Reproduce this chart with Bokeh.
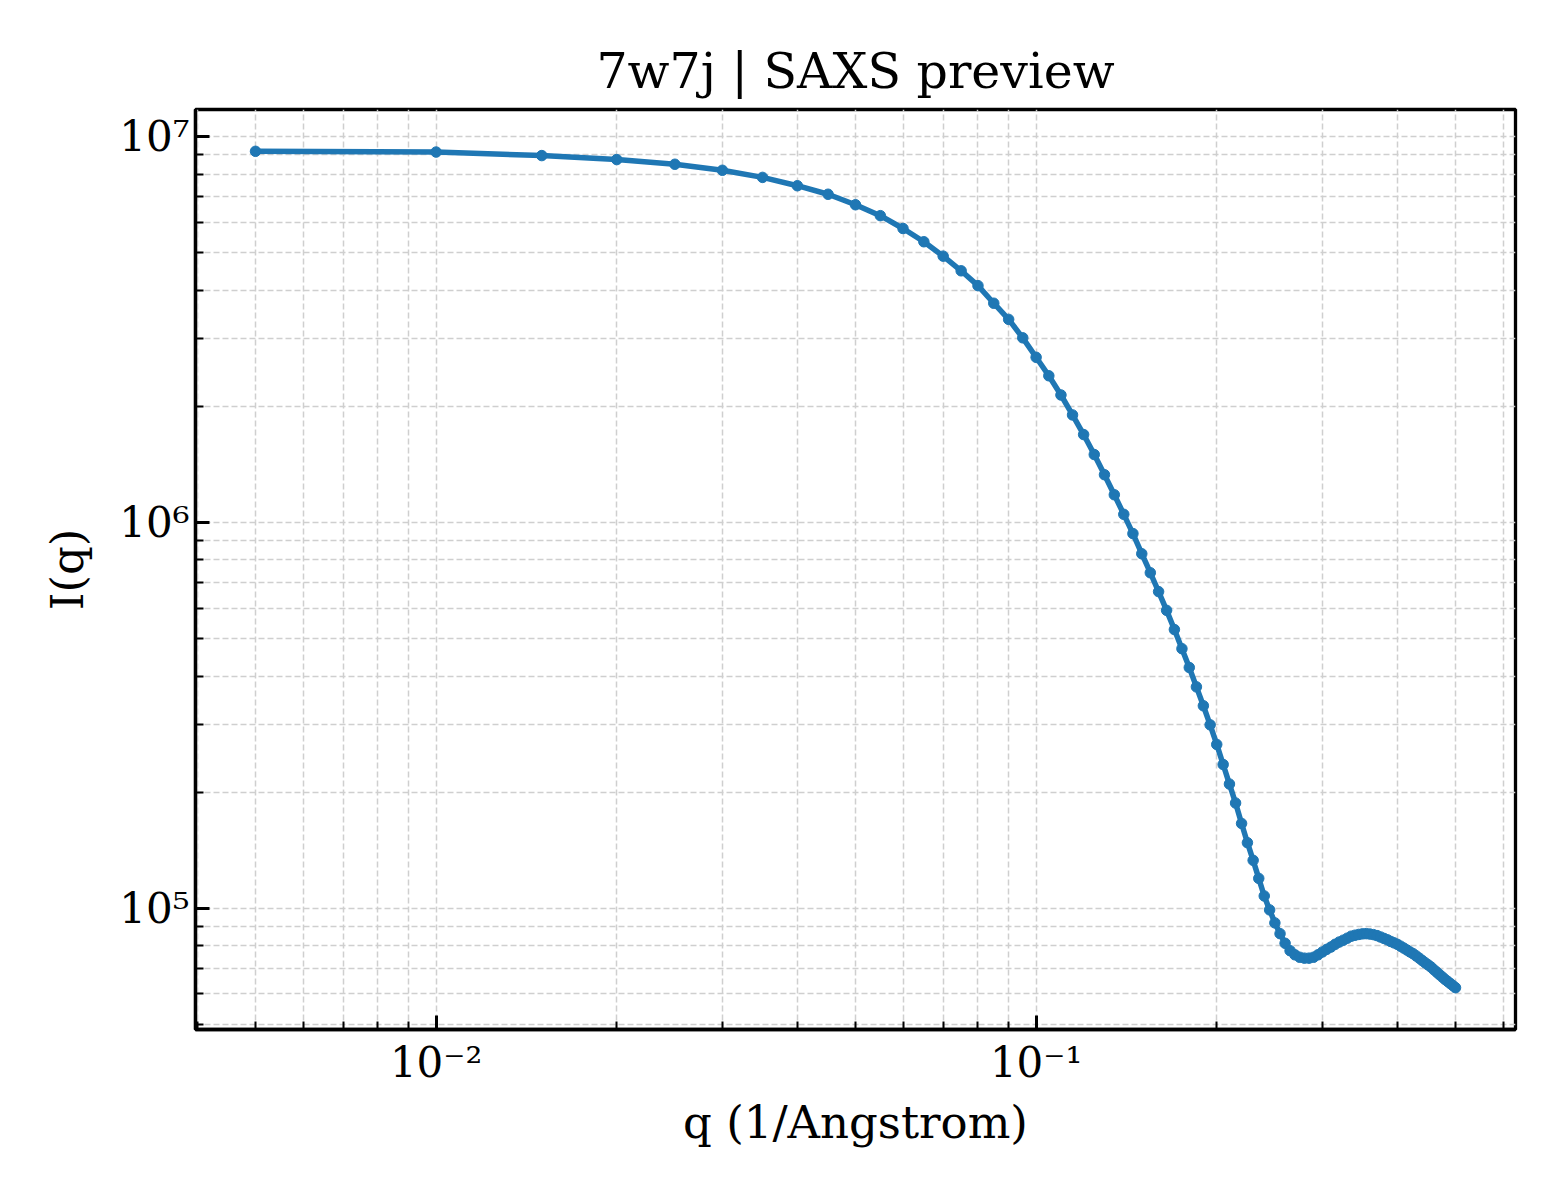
import numpy as np
from bokeh.plotting import figure
from bokeh.models import FixedTicker, CustomJSTickFormatter, Range1d
from bokeh.embed import file_html
from bokeh.resources import INLINE

# ---- data ----
q = [0.005, 0.010, 0.015, 0.020, 0.025, 0.030, 0.035, 0.040, 0.045, 0.050,
     0.055, 0.060, 0.065, 0.070, 0.075, 0.080, 0.085, 0.090, 0.095, 0.100,
     0.105, 0.110, 0.115, 0.120, 0.125, 0.130, 0.135, 0.140, 0.145, 0.150,
     0.155, 0.160, 0.165, 0.170, 0.175, 0.180, 0.185, 0.190, 0.195, 0.200,
     0.205, 0.210, 0.215, 0.220, 0.225, 0.230, 0.235, 0.240, 0.245, 0.250,
     0.255, 0.260, 0.265, 0.270, 0.275, 0.280, 0.285, 0.290, 0.295, 0.300,
     0.305, 0.310, 0.315, 0.320, 0.325, 0.330, 0.335, 0.340, 0.345, 0.350,
     0.355, 0.360, 0.365, 0.370, 0.375, 0.380, 0.385, 0.390, 0.395, 0.400,
     0.405, 0.410, 0.415, 0.420, 0.425, 0.430, 0.435, 0.440, 0.445, 0.450,
     0.455, 0.460, 0.465, 0.470, 0.475, 0.480, 0.485, 0.490, 0.495, 0.500]

intensity = [9.16e6, 9.12e6, 8.93e6, 8.72e6, 8.48e6, 8.18e6, 7.84e6, 7.46e6, 7.09e6, 6.66e6,
             6.24e6, 5.78e6, 5.34e6, 4.90e6, 4.49e6, 4.11e6, 3.70e6, 3.36e6, 3.01e6, 2.68e6,
             2.40e6, 2.14e6, 1.90e6, 1.69e6, 1.50e6, 1.33e6, 1.18e6, 1.05e6, 9.36e5, 8.30e5,
             7.41e5, 6.62e5, 5.92e5, 5.28e5, 4.71e5, 4.21e5, 3.75e5, 3.35e5, 2.99e5, 2.66e5,
             2.36e5, 2.10e5, 1.875e5, 1.66e5, 1.48e5, 1.332e5, 1.196e5, 1.077e5, 9.91e4, 9.17e4,
             8.60e4, 8.12e4, 7.77e4, 7.58e4, 7.47e4, 7.43e4, 7.43e4, 7.47e4, 7.58e4, 7.71e4,
             7.83e4, 7.94e4, 8.07e4, 8.18e4, 8.27e4, 8.37e4, 8.47e4, 8.52e4, 8.56e4, 8.59e4,
             8.60e4, 8.58e4, 8.55e4, 8.50e4, 8.43e4, 8.36e4, 8.29e4, 8.21e4, 8.14e4, 8.07e4,
             7.98e4, 7.89e4, 7.80e4, 7.71e4, 7.63e4, 7.53e4, 7.43e4, 7.33e4, 7.23e4, 7.14e4,
             7.05e4, 6.94e4, 6.84e4, 6.74e4, 6.645e4, 6.55e4, 6.47e4, 6.39e4, 6.31e4, 6.23e4]

title_text = "7w7j | SAXS preview"
x_label = "q (1/Angstrom)"
y_label = "I(q)"

x_major = [1e-2, 1e-1]
y_major = [1e5, 1e6, 1e7]

# ---- ranges: matplotlib-like 5% margins in log space ----
def log_limits(vals, frac=0.05):
    lo, hi = np.log10(min(vals)), np.log10(max(vals))
    m = frac * (hi - lo)
    return 10 ** (lo - m), 10 ** (hi + m)

xlo, xhi = log_limits(q)
ylo, yhi = log_limits(intensity)

def minor_ticks(lo, hi):
    out = []
    for e in range(int(np.floor(np.log10(lo))) - 1, int(np.ceil(np.log10(hi))) + 1):
        for m in range(2, 10):
            v = m * 10.0 ** e
            if lo <= v <= hi:
                out.append(v)
    return out

FONT = "DejaVu Serif"
BLUE = "#1f77b4"

p = figure(
    x_axis_type="log", y_axis_type="log",
    x_range=Range1d(xlo, xhi), y_range=Range1d(ylo, yhi),
    frame_width=1320, frame_height=920,
    min_border_left=195, min_border_right=37,
    min_border_top=109, min_border_bottom=155,
    output_backend="svg", toolbar_location=None,
    title=title_text,
)
p.background_fill_color = "white"
p.border_fill_color = "white"
p.outline_line_color = "black"
p.outline_line_width = 3.3

p.title.align = "center"
p.title.text_font = FONT
p.title.text_font_size = "49px"
p.title.text_font_style = "normal"
p.title.text_color = "black"
p.title.standoff = 20

sup_code = """
const e = Math.round(Math.log10(tick));
const sup = {'-':'\u207b','0':'\u2070','1':'\u00b9','2':'\u00b2','3':'\u00b3','4':'\u2074','5':'\u2075','6':'\u2076','7':'\u2077','8':'\u2078','9':'\u2079'};
return '10' + String(e).split('').map(c => sup[c]).join('');
"""

p.xaxis.ticker = FixedTicker(ticks=x_major, minor_ticks=minor_ticks(xlo, xhi))
p.yaxis.ticker = FixedTicker(ticks=y_major, minor_ticks=minor_ticks(ylo, yhi))
p.xaxis.formatter = CustomJSTickFormatter(code=sup_code)
p.yaxis.formatter = CustomJSTickFormatter(code=sup_code)

for ax in (p.xaxis[0], p.yaxis[0]):
    ax.axis_line_color = "black"
    ax.axis_line_width = 3.3
    ax.major_tick_in = 14
    ax.major_tick_out = 0
    ax.major_tick_line_width = 3
    ax.minor_tick_in = 8
    ax.minor_tick_out = 0
    ax.minor_tick_line_width = 2
    ax.major_label_text_font = FONT
    ax.major_label_text_font_size = "42px"
    ax.major_label_text_color = "black"
    ax.axis_label_text_font = FONT
    ax.axis_label_text_font_size = "45px"
    ax.axis_label_text_font_style = "normal"
    ax.axis_label_text_color = "black"

p.xaxis.axis_label = x_label
p.yaxis.axis_label = y_label
p.xaxis.major_label_standoff = 8
p.xaxis.axis_label_standoff = 6
p.yaxis.major_label_standoff = 6
p.yaxis.axis_label_standoff = 22

for g in (p.xgrid[0], p.ygrid[0]):
    g.grid_line_color = "#cfcfcf"
    g.grid_line_dash = "6 3"
    g.grid_line_width = 1.5
    g.minor_grid_line_color = "#cfcfcf"
    g.minor_grid_line_dash = "6 3"
    g.minor_grid_line_width = 1.5

p.line(q, intensity, line_color=BLUE, line_width=5.5)
p.scatter(q, intensity, size=10.5, fill_color=BLUE, line_color=BLUE)

open("out.html", "w").write(file_html(p, INLINE))
